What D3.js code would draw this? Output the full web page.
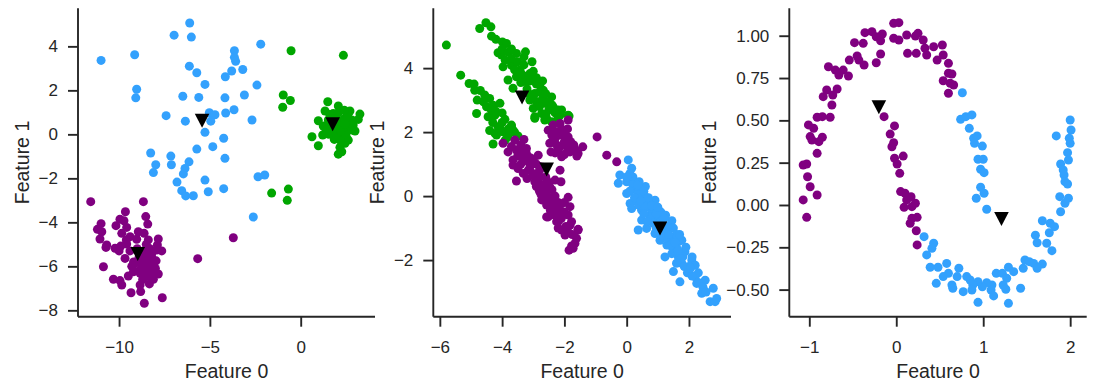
<!DOCTYPE html>
<html lang="en">
<head>
<meta charset="utf-8">
<title>Cluster scatter</title>
<script src="https://cdn.jsdelivr.net/npm/d3@7"></script>
<style>
  body { margin: 0; background: #fff; }
  svg text { font-family: "Liberation Sans", Arial, sans-serif; fill: #262626; }
</style>
</head>
<body>
<script>
// ---- data ----
// panel 1: blobs
var blobsBlue = [
  [-10.99,3.36],[-9.14,3.62],[-9.03,2.05],[-9.08,1.66],[-6.11,5.06],[-6.97,4.51],[-6.02,4.42],
  [-2.20,4.10],[-3.65,3.80],[-3.65,3.50],[-3.58,3.32],[-3.80,2.88],[-3.19,2.95],[-6.13,3.10],
  [-5.72,2.80],[-4.15,2.62],[-5.27,2.27],[-2.41,2.24],[-6.49,1.73],[-5.61,1.68],[-4.17,1.66],
  [-3.10,1.79],[-3.67,1.12],[-4.13,0.97],[-5.03,0.98],[-4.72,0.89],[-4.95,0.60],[-7.41,0.85],
  [-6.35,0.60],[-2.68,0.65],[-5.27,0.09],[-4.24,-0.18],[-4.84,-0.56],[-5.72,-0.67],[-4.17,-1.09],
  [-8.26,-0.85],[-7.15,-0.99],[-7.98,-1.38],[-7.12,-1.38],[-6.15,-1.25],[-8.11,-1.74],[-6.37,-1.55],
  [-6.46,-1.80],[-6.81,-2.17],[-5.27,-2.08],[-6.55,-2.56],[-6.33,-2.80],[-5.91,-2.79],[-5.09,-2.61],
  [-4.24,-2.47],[-2.35,-1.93],[-1.98,-1.85],[-2.61,-3.76]
];
var blobsGreen = [
  [-0.53,3.80],[2.35,3.59],[-0.96,1.79],[-0.57,1.54],[-0.99,1.23],[-1.60,-2.67],[-0.68,-2.49],[-0.74,-3.00],
  [1.49,1.48],[2.07,1.29],[1.34,1.06],[1.79,0.95],[2.71,1.06],[3.26,0.92],[3.17,0.68],[0.97,0.62],
  [1.24,0.38],[2.53,0.80],[2.16,0.57],[2.89,0.42],[2.35,0.27],[1.79,0.12],[1.21,-0.03],[2.99,0.15],
  [2.62,-0.26],[2.44,-0.41],[1.85,-0.23],[0.62,-0.11],[0.97,-0.52],[2.16,-0.59],[2.26,-0.79],[2.07,-0.90],
  [1.61,0.35],[1.98,0.88],[2.62,0.35],[2.81,0.65],[1.52,0.65],[2.35,0.05],[2.20,0.50],[2.00,0.20],
  [2.40,0.70],[1.90,0.60],[2.50,0.10],[2.10,1.00],[1.70,0.40],[2.30,0.30],[2.70,0.50],[1.40,0.20],
  [2.00,-0.10],[2.50,-0.10],
  [2.00,0.40],[2.30,0.55],[2.20,0.15],[1.80,0.30],[2.60,0.80],[2.40,1.10],[1.60,0.90],[2.80,0.20],
  [2.20,-0.30],[1.95,0.70],[2.45,0.45],[1.55,0.00]
];
var blobsPurple = [
  [-11.56,-3.06],[-8.66,-3.06],[-9.65,-3.52],[-8.53,-3.74],[-8.42,-4.08],[-10.99,-4.06],[-9.95,-3.86],
  [-9.73,-3.93],[-11.19,-4.32],[-10.95,-4.43],[-10.17,-4.15],[-9.58,-4.23],[-9.85,-4.50],[-8.94,-4.43],
  [-8.62,-4.50],[-11.05,-4.76],[-9.39,-4.65],[-9.03,-4.77],[-8.39,-4.80],[-7.84,-4.76],[-10.68,-5.03],
  [-10.72,-5.14],[-10.22,-5.18],[-9.91,-5.08],[-9.58,-4.99],[-8.48,-5.18],[-7.89,-5.03],[-7.65,-5.30],
  [-7.93,-5.26],[-9.67,-5.64],[-8.66,-5.56],[-8.20,-5.59],[-7.96,-5.75],[-8.48,-5.84],[-9.21,-5.91],
  [-8.75,-6.02],[-10.86,-6.02],[-8.39,-6.14],[-9.21,-6.25],[-8.84,-6.32],[-9.49,-6.44],[-7.84,-6.35],
  [-8.48,-6.44],[-8.11,-6.59],[-10.31,-6.59],[-9.95,-6.65],[-9.85,-6.85],[-8.84,-6.85],[-8.33,-6.80],
  [-9.34,-7.20],[-8.81,-7.15],[-7.62,-7.43],[-8.61,-7.68],[-3.71,-4.70],[-5.67,-5.65],
  [-8.60,-5.30],[-8.40,-5.60],[-8.80,-5.90],[-8.30,-5.90],[-8.50,-6.10],[-9.00,-5.20],[-8.70,-5.70],
  [-8.20,-5.40],[-9.20,-5.80],[-8.90,-6.20],
  [-8.50,-5.00],[-8.10,-5.80],[-8.60,-6.40],[-8.30,-5.20],[-8.90,-5.60],[-8.00,-6.10],[-8.60,-5.85],
  [-9.40,-5.30],[-9.30,-6.00],[-8.70,-6.60],[-8.20,-6.30],[-9.60,-4.80],[-10.00,-5.30]
];
var centers1 = [[-5.43,0.62],[1.76,0.46],[-8.97,-5.44]];

// panel 2: stretched blobs
var anisoGreen = [
  [-5.79,4.72],[-4.52,5.42],[-4.72,5.24],[-4.36,5.29],[-4.34,5.00],[-3.99,4.82],[-3.86,4.77],[-4.13,4.48],
  [-4.02,4.41],[-3.54,4.46],[-3.25,4.51],[-3.04,4.20],[-3.97,4.04],[-3.70,4.09],[-3.43,3.94],[-3.11,3.83],
  [-3.81,3.63],[-3.54,3.73],[-3.22,3.57],[-3.00,3.68],[-2.79,3.47],[-2.68,3.31],[-3.65,3.37],[-2.41,3.10],
  [-2.95,3.21],[-2.89,2.95],[-2.63,2.90],[-2.36,2.79],[-2.20,2.69],[-3.00,2.74],[-2.73,2.58],[-2.95,2.43],
  [-2.57,2.43],[-2.14,2.53],[-1.85,2.50],[-2.41,2.32],[-3.11,3.00],[-3.16,3.21],
  [-5.33,3.78],[-5.06,3.52],[-4.88,3.31],[-4.80,3.00],[-4.56,3.16],[-4.40,3.05],[-4.50,2.79],[-4.29,2.84],
  [-4.07,2.90],[-4.45,2.48],[-4.23,2.53],[-3.91,2.40],[-4.13,2.17],[-3.70,2.22],[-3.65,2.06],[-3.97,2.01],
  [-4.18,1.91],[-3.81,1.85],[-3.49,1.88],[-4.29,1.63],[-4.82,2.58],[-4.23,1.96],[-4.07,2.12],[-3.70,2.17],
  [-1.88,2.53],[-2.09,2.69],[-2.95,2.48],[-2.63,2.38],
  [-4.20,4.90],[-4.00,4.60],[-3.80,4.50],[-3.70,4.30],[-3.90,4.25],[-3.50,4.20],[-3.30,4.10],[-3.60,3.95],
  [-3.30,3.75],[-3.10,3.60],[-3.40,3.55],[-2.90,3.50],[-3.20,3.35],[-2.80,3.25],[-3.00,3.10],[-2.70,3.05],
  [-2.50,2.95],[-2.80,2.80],[-2.50,2.70],[-2.30,2.60],[-2.60,2.55],[-2.20,2.45],[-3.40,3.85],[-3.00,3.90],
  [-2.60,3.20],[-2.40,2.85],[-3.70,4.60],[-3.30,4.35],[-2.90,3.70],[-2.70,3.60],
  [-4.90,3.50],[-4.70,3.30],[-4.60,2.95],[-4.35,2.70],[-4.20,2.65],[-4.00,2.60],[-4.30,2.30],[-4.00,2.30],
  [-3.80,2.10],[-4.40,2.05],[-3.60,2.00],[-3.90,1.75]
];
var anisoPurple = [
  [-2.52,2.06],[-2.36,2.22],[-2.14,2.27],[-1.88,2.38],[-2.04,2.01],[-1.88,1.85],[-2.47,1.65],[-2.14,1.54],
  [-1.72,1.54],[-1.41,1.54],[-1.56,1.33],[-1.82,1.38],[-2.09,1.23],[-0.95,1.85],[-0.64,1.28],[-0.32,1.07],
  [-2.43,1.38],[-3.97,1.65],[-3.59,1.75],[-3.30,1.77],[-3.81,1.38],[-3.54,1.44],[-3.22,1.49],[-2.84,1.28],
  [-3.65,1.13],[-3.32,1.18],[-3.05,1.02],[-3.49,0.86],[-3.16,0.81],[-2.14,0.81],[-2.79,0.92],[-3.65,0.97],
  [-3.54,0.47],[-3.22,1.33],[-3.11,0.81],[-3.32,0.71],[-2.79,0.60],[-2.95,0.45],[-2.57,0.50],[-2.68,0.19],
  [-2.47,0.29],[-2.11,0.45],[-2.36,-0.02],[-2.73,-0.12],[-1.88,-0.04],[-2.57,-0.28],[-2.25,-0.39],
  [-1.82,-0.33],[-2.52,-0.65],[-2.14,-0.49],[-1.88,-0.59],[-2.20,-0.80],[-1.77,-0.80],[-2.09,-1.06],
  [-1.56,-1.04],[-1.98,-1.22],[-1.61,-1.32],[-1.77,-1.56],[-1.66,-1.48],[-1.82,-0.91],[-1.56,-1.06],
  [-1.72,-1.63],[-1.85,-1.69],[-2.57,-0.65],[-2.25,-0.80],
  [-3.10,1.20],[-2.90,1.00],[-3.00,0.70],[-2.80,0.80],[-2.60,0.60],[-2.70,0.90],[-2.50,0.40],[-2.40,0.20],
  [-2.60,0.10],[-2.30,0.00],[-2.20,-0.20],[-2.40,-0.30],[-2.00,-0.50],[-2.30,0.50],[-3.30,1.40],[-2.90,0.30],
  [-2.20,1.90],[-2.00,1.70],[-2.30,1.80],[-1.90,2.10],
  [-3.70,1.55],[-3.40,1.60],[-3.50,1.25],[-3.20,1.10],[-3.40,1.00],[-3.00,1.15],[-3.10,0.95],[-2.95,0.60],
  [-3.20,0.55],[-2.85,0.50],[-2.70,0.35],[-2.55,0.25],[-2.75,0.05],[-2.50,-0.05],[-2.35,-0.15],[-2.45,-0.45],
  [-2.30,-0.60],[-2.10,-0.70],[-2.20,-1.00],[-1.95,-0.95],[-1.90,-1.10],[-1.75,-1.20],[-2.80,0.15],
  [-2.60,-0.15],[-2.15,-0.30],[-2.00,-0.20],
  [-2.30,2.00],[-2.10,2.10],[-2.00,1.85],[-2.25,1.60],[-1.95,1.60],[-1.80,1.70],[-1.65,1.45],[-1.90,1.40],
  [-2.30,1.35],[-1.60,1.25],[-2.00,1.30],[-2.40,1.90],[-1.70,1.60],[-2.20,1.45]
];
var anisoBlue = [
  [0.05,1.13],[0.16,0.87],[-0.22,0.66],[-0.27,0.40],[0.00,0.45],[0.21,0.50],[0.27,0.24],[0.00,0.08],
  [0.48,0.19],[0.59,-0.02],[0.11,-0.23],[0.32,-0.18],[0.91,-0.13],[0.69,-0.28],[0.16,-0.39],[0.48,-0.44],
  [0.86,-0.44],[1.02,-0.54],[0.48,-0.75],[0.37,-1.06],[0.64,-1.01],[1.45,-0.77],[1.34,-1.06],[0.91,-1.17],
  [1.07,-1.38],[1.55,-1.27],[1.77,-1.38],[1.29,-1.53],[1.50,-1.63],[1.23,-1.90],[1.66,-1.90],[1.87,-1.74],
  [1.77,-2.10],[2.09,-2.00],[2.20,-2.16],[1.98,-2.31],[1.50,-2.36],[1.71,-2.68],[2.20,-2.52],[2.52,-2.63],
  [2.25,-2.73],[2.41,-3.04],[2.78,-2.88],[2.68,-3.30],[2.84,-3.30],[2.89,-3.20],
  [0.30,0.20],[0.50,0.00],[0.70,-0.20],[0.80,-0.50],[1.00,-0.70],[1.20,-0.90],[1.30,-1.20],[1.40,-1.40],
  [1.60,-1.60],[1.80,-1.90],[2.00,-2.20],[0.60,0.30],[0.40,-0.30],[0.90,-0.30],[1.10,-0.50],[1.50,-1.00],
  [1.70,-1.40],[1.90,-1.60],[2.10,-1.90],[2.30,-2.40],[0.20,0.60],[0.40,0.45],[1.25,-0.60],[1.60,-1.20],
  [0.10,0.70],[0.00,0.60],[0.20,0.35],[0.35,0.35],[0.10,0.15],[0.35,0.05],[0.55,0.15],[0.25,-0.05],
  [0.45,-0.15],[0.70,-0.05],[0.60,-0.35],[0.80,-0.30],[0.75,-0.65],[0.95,-0.55],[0.85,-0.85],[1.05,-0.85],
  [1.15,-1.10],[0.95,-1.00],[1.25,-1.30],[1.10,-1.25],[1.40,-1.55],[1.35,-1.20],[1.55,-1.45],[1.45,-1.80],
  [1.65,-1.70],[1.75,-1.95],[1.60,-2.10],[1.85,-2.20],[1.95,-2.40],[2.10,-2.50],[2.05,-2.25],[2.30,-2.70],
  [2.45,-2.85],[2.55,-3.00],[1.20,-0.70],[1.30,-0.95],[0.55,-0.55],[0.65,-0.80],[1.00,-0.35],[1.70,-1.20]
];
var centers2 = [[1.07,-1.01],[-3.36,3.08],[-2.57,0.83]];

// panel 3: moons
var moonsPurple = [
  [-1.07,0.236],[-1.03,0.242],[-1.02,0.167],[-0.99,0.108],[-0.91,0.059],[-1.07,0.030],[-1.03,-0.073],
  [-0.91,0.305],[-0.97,0.384],[-0.89,0.374],[-0.85,0.400],[-0.99,0.404],[-1.01,0.473],[-0.95,0.453],
  [-0.91,0.518],[-0.85,0.522],[-0.76,0.518],[-0.74,0.591],[-0.84,0.640],[-0.80,0.679],[-0.73,0.650],
  [-0.68,0.685],[-0.78,0.817],[-0.70,0.797],[-0.66,0.768],[-0.61,0.797],[-0.55,0.762],[-0.54,0.856],
  [-0.45,0.880],[-0.43,0.856],[-0.37,0.827],[-0.48,0.959],[-0.38,0.955],[-0.36,1.018],[-0.28,1.024],
  [-0.23,0.994],[-0.18,0.970],[-0.16,1.010],[-0.18,0.892],[-0.23,0.840],[-0.03,1.073],[0.03,1.077],
  [-0.03,0.985],[0.03,0.975],[0.12,1.004],[0.22,0.998],[0.25,1.014],[0.13,0.896],[0.23,0.896],
  [0.31,0.975],[0.33,0.926],[0.35,0.886],[0.43,0.935],[0.53,0.945],[0.54,0.886],[0.47,0.856],
  [0.60,0.837],[0.60,0.778],[0.64,0.774],[0.54,0.734],[0.62,0.719],[0.66,0.709],[0.60,0.660],
  [-0.14,0.522],[-0.02,0.467],[-0.07,0.419],[-0.03,0.368],[-0.05,0.344],[0.08,0.289],[-0.02,0.276],
  [0.01,0.242],[0.04,0.187],[0.05,0.079],[0.10,0.069],[0.17,0.049],[0.12,0.030],[0.22,0.010],
  [0.09,-0.014],[0.18,-0.010],[0.24,-0.073],[0.16,-0.108],[0.18,-0.079],[0.23,-0.152],[0.24,-0.236]
];
var moonsBlue = [
  [0.76,0.663],[0.74,0.506],[0.80,0.522],[0.87,0.532],[0.84,0.453],[0.89,0.394],[0.93,0.408],[0.90,0.364],
  [0.99,0.348],[0.94,0.270],[1.00,0.270],[0.97,0.211],[1.01,0.191],[0.97,0.105],[1.01,0.069],[0.92,0.040],
  [1.04,-0.025],[2.00,0.502],[2.01,0.443],[1.84,0.408],[1.99,0.394],[2.00,0.364],[1.97,0.309],[1.98,0.266],
  [1.89,0.242],[1.92,0.207],[1.93,0.177],[1.94,0.138],[1.97,0.124],[1.88,0.049],[1.94,0.010],[1.98,0.040],
  [1.89,-0.040],[1.68,-0.093],[1.77,-0.108],[1.82,-0.128],[1.76,-0.164],[1.60,-0.179],[1.73,-0.226],
  [1.62,-0.223],[1.79,-0.270],[1.48,-0.325],[1.53,-0.335],[1.58,-0.345],[1.68,-0.349],[1.46,-0.374],
  [1.62,-0.374],[1.29,-0.368],[1.35,-0.394],[1.43,-0.492],[1.29,-0.581],[1.15,-0.404],[1.22,-0.404],
  [1.27,-0.433],[1.23,-0.473],[1.26,-0.498],[1.10,-0.473],[1.09,-0.502],[1.12,-0.537],[1.04,-0.459],
  [0.99,-0.483],[0.94,-0.453],[0.88,-0.473],[0.85,-0.443],[0.81,-0.423],[0.87,-0.502],[0.77,-0.512],
  [0.94,-0.575],[0.72,-0.374],[0.70,-0.423],[0.64,-0.473],[0.65,-0.492],[0.60,-0.404],[0.58,-0.345],
  [0.54,-0.423],[0.46,-0.463],[0.48,-0.368],[0.39,-0.368],[0.32,-0.187],[0.43,-0.226],[0.41,-0.256],
  [0.35,-0.295]
];
var centers3 = [[-0.20,0.577],[1.21,-0.083]];

// tick values per panel
var p1xTicks = [-10, -5, 0], p1yTicks = [-8, -6, -4, -2, 0, 2, 4];
var p2xTicks = [-6, -4, -2, 0, 2], p2yTicks = [-2, 0, 2, 4];
var p3xTicks = [-1, 0, 1, 2], p3yTicks = [-0.5, -0.25, 0, 0.25, 0.5, 0.75, 1.0];

var BLUE = "#33a1fd", GREEN = "#00a600", PURPLE = "#800080";

// ---- layout ----
var W = 1095, H = 391;
var axTop = 8.3, axBottom = 316.7;

var svg = d3.select("body").append("svg")
    .attr("width", W)
    .attr("height", H);

var panels = [
  { left: 78, right: 375, xdom: [-12.26, 4.09], ydom: [-8.29, 5.73],
    xt: p1xTicks, yt: p1yTicks, yfmt: d3.format("d"),
    sets: [[blobsGreen, GREEN], [blobsPurple, PURPLE], [blobsBlue, BLUE]], centers: centers1 },
  { left: 433.3, right: 731, xdom: [-6.21, 3.35], ydom: [-3.77, 5.87],
    xt: p2xTicks, yt: p2yTicks, yfmt: d3.format("d"),
    sets: [[anisoGreen, GREEN], [anisoPurple, PURPLE], [anisoBlue, BLUE]], centers: centers2 },
  { left: 789.3, right: 1086.7, xdom: [-1.23, 2.19], ydom: [-0.66, 1.162],
    xt: p3xTicks, yt: p3yTicks, yfmt: d3.format(".2f"),
    sets: [[moonsPurple, PURPLE], [moonsBlue, BLUE]], centers: centers3 }
];

panels.forEach(function(p) {
  var x = d3.scaleLinear().domain(p.xdom).range([p.left, p.right]);
  var y = d3.scaleLinear().domain(p.ydom).range([axBottom, axTop]);
  var g = svg.append("g");

  // points
  p.sets.forEach(function(s) {
    g.append("g").selectAll("circle")
      .data(s[0])
      .enter()
      .append("circle")
      .attr("cx", function(d) { return x(d[0]); })
      .attr("cy", function(d) { return y(d[1]); })
      .attr("r", 4.5)
      .attr("fill", s[1]);
  });

  // centers: downward triangles
  g.append("g").selectAll("path")
    .data(p.centers)
    .enter()
    .append("path")
    .attr("d", "M-7.3,-7L7.3,-7L0,7Z")
    .attr("transform", function(d) { return "translate(" + x(d[0]) + "," + y(d[1]) + ")"; })
    .attr("fill", "#000");

  // axes
  var xAxis = d3.axisBottom(x).tickValues(p.xt).tickSize(10).tickPadding(14)
      .tickFormat(d3.format("d"));
  var yAxis = d3.axisLeft(y).tickValues(p.yt).tickSize(10).tickPadding(10)
      .tickFormat(p.yfmt);

  var gx = g.append("g")
    .attr("transform", "translate(0," + axBottom + ")")
    .call(xAxis);
  var gy = g.append("g")
    .attr("transform", "translate(" + p.left + ",0)")
    .call(yAxis);

  [gx, gy].forEach(function(a) {
    a.attr("font-size", null).attr("font-family", null);
    a.select(".domain").attr("stroke", "#262626").attr("stroke-width", 1.9);
    a.selectAll(".tick line").attr("stroke", "#262626").attr("stroke-width", 1.9);
    a.selectAll(".tick text").style("font-size", "17px").attr("fill", "#262626");
  });
  // keep spine ends flush with axes box
  gx.select(".domain").attr("d", "M" + p.left + ",0H" + p.right);
  gy.select(".domain").attr("d", "M0," + axTop + "V" + axBottom);

  // labels
  g.append("text")
    .attr("x", (p.left + p.right) / 2)
    .attr("y", 378)
    .attr("text-anchor", "middle")
    .style("font-size", "19.5px")
    .text("Feature 0");

  var bb = gy.node().getBBox();
  var lx = p.left + bb.x - 10;
  g.append("text")
    .attr("transform", "translate(" + lx + "," + ((axTop + axBottom) / 2) + ") rotate(-90)")
    .attr("text-anchor", "middle")
    .style("font-size", "19.5px")
    .text("Feature 1");
});
</script>
</body>
</html>
